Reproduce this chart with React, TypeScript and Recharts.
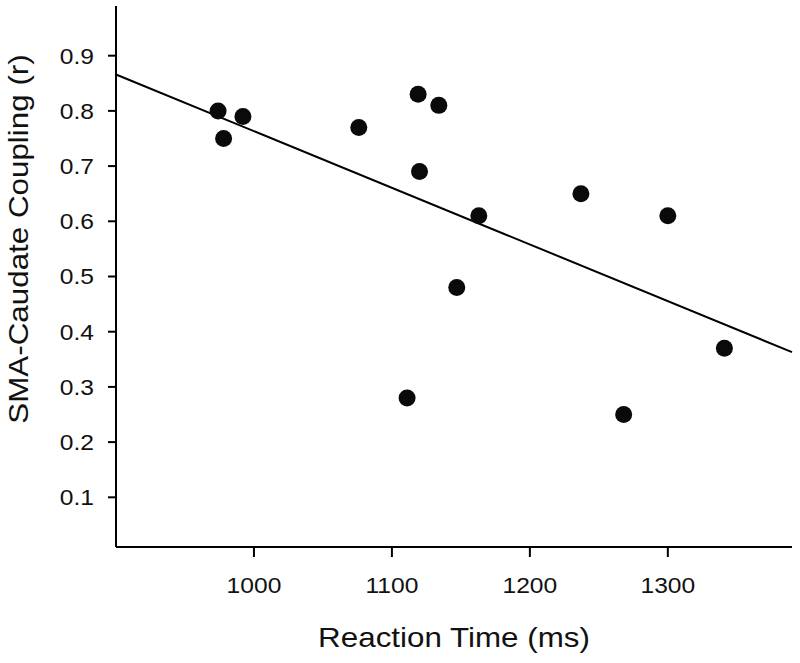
import { ScatterChart, Scatter, XAxis, YAxis, ReferenceLine, Label } from 'recharts';

// reaction time (ms) and SMA-caudate coupling (r) per subject
const reactionTimes = [974, 978, 992, 1076, 1119, 1134, 1120, 1163, 1147, 1111, 1237, 1268, 1300, 1341];
const couplingValues = [0.8, 0.75, 0.79, 0.77, 0.83, 0.81, 0.69, 0.61, 0.48, 0.28, 0.65, 0.25, 0.61, 0.37];

const xTicks = [1000, 1100, 1200, 1300];
const yTicks = [0.1, 0.2, 0.3, 0.4, 0.5, 0.6, 0.7, 0.8, 0.9];

// fitted regression line end points
const fitX = [900, 1390];
const fitY = [0.866, 0.363];

const points = reactionTimes.map((rt, i) => ({ rt, r: couplingValues[i] }));

const FONT = '"Liberation Sans", Arial, sans-serif';
const INK = '#111';
const STRETCH = 1.12;

const XTick = ({ x, y, payload }: any) => (
  <g transform={`translate(${x},${y}) scale(${STRETCH},1)`}>
    <text textAnchor="middle" dy="0.72em" fontSize={22} fontFamily={FONT} fill={INK}>
      {payload.value}
    </text>
  </g>
);

const YTick = ({ x, y, payload }: any) => (
  <g transform={`translate(${x},${y}) scale(${STRETCH},1)`}>
    <text textAnchor="end" dy="0.36em" fontSize={22} fontFamily={FONT} fill={INK}>
      {Number(payload.value).toFixed(1)}
    </text>
  </g>
);

const Dot = ({ cx, cy }: any) => <circle cx={cx} cy={cy} r={8.5} fill="#0a0a0a" />;

export default function App() {
  return (
    <div style={{ background: '#fff', width: 800, height: 663 }}>
      <style>{`body{margin:0}`}</style>
      <ScatterChart width={800} height={663} margin={{ top: 6, right: 8, bottom: 0, left: 0 }}>
        <XAxis
          type="number"
          dataKey="rt"
          domain={[900, 1390]}
          ticks={xTicks}
          allowDataOverflow
          height={116}
          tickSize={10}
          tickMargin={20}
          tick={<XTick />}
          axisLine={{ stroke: '#000', strokeWidth: 2 }}
          tickLine={{ stroke: '#000', strokeWidth: 2 }}
        >
          <Label
            content={({ viewBox }: any) => (
              <g transform={`translate(${viewBox.x + viewBox.width / 2},${viewBox.y + 100}) scale(${STRETCH},1)`}>
                <text textAnchor="middle" fontSize={28} fontFamily={FONT} fill={INK}>
                  Reaction Time (ms)
                </text>
              </g>
            )}
          />
        </XAxis>
        <YAxis
          type="number"
          dataKey="r"
          domain={[0.01, 0.99]}
          ticks={yTicks}
          allowDataOverflow
          width={116}
          tickSize={8}
          tickMargin={14}
          tick={<YTick />}
          axisLine={{ stroke: '#000', strokeWidth: 2 }}
          tickLine={{ stroke: '#000', strokeWidth: 2 }}
        >
          <Label
            content={({ viewBox }: any) => (
              <g transform={`translate(${viewBox.x + 28},${viewBox.y + 233}) rotate(-90) scale(${STRETCH},1)`}>
                <text textAnchor="middle" fontSize={28} fontFamily={FONT} fill={INK}>
                  SMA-Caudate Coupling (r)
                </text>
              </g>
            )}
          />
        </YAxis>
        <ReferenceLine
          segment={[
            { x: fitX[0], y: fitY[0] },
            { x: fitX[1], y: fitY[1] },
          ]}
          stroke="#000"
          strokeWidth={2}
          ifOverflow="visible"
        />
        <Scatter data={points} shape={<Dot />} isAnimationActive={false} />
      </ScatterChart>
    </div>
  );
}
